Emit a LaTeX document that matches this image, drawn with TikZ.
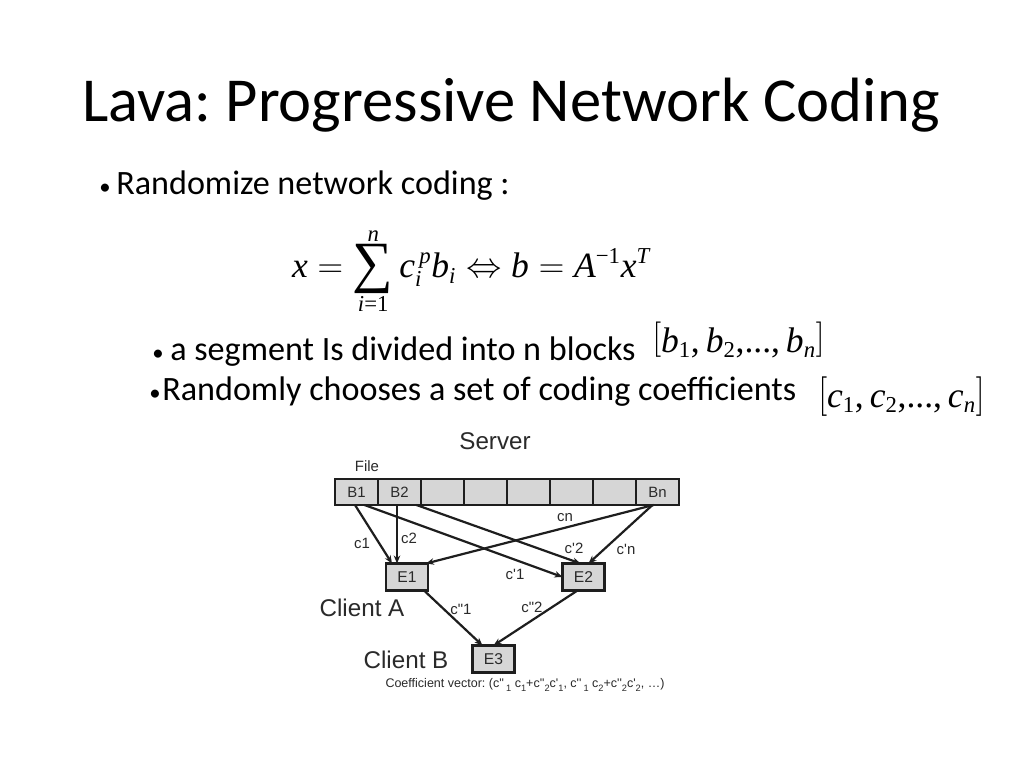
\documentclass[tikz,border=0pt]{standalone}
\usepackage{graphicx}
\usepackage[no-math]{fontspec}
\setmainfont{Carlito}
\newfontfamily\arial{Liberation Sans}
\newfontfamily\tnr{Liberation Serif}
\usetikzlibrary{arrows.meta}
\frenchspacing
\newcommand\pxu{0.703125pt}
\newcommand\mi[1]{\hbox{\tnr\itshape #1}}
\newcommand\ms[1]{\hbox{\fontsize{16}{16}\selectfont\tnr\itshape #1}}
\newcommand\mr[1]{\hbox{\fontsize{16}{16}\selectfont\tnr #1}}
\newcommand\mt[1]{\hbox{\tnr #1}}
\newcommand\brk[3]{\hbox{\raisebox{#2}{\scalebox{1}[#3]{$#1$}}}}
\definecolor{cellgray}{HTML}{D6D6D6}
\definecolor{linegray}{HTML}{1E1E1E}
\definecolor{txtgray}{HTML}{2A2A2A}
\tikzset{
  cellbox/.style={draw=linegray, fill=cellgray, line width=2*\pxu, minimum width=43*\pxu, minimum height=26*\pxu, inner sep=0pt, outer sep=0pt, font=\arial\fontsize{10.5}{12}\selectfont, text=txtgray},
  ebox/.style={draw=linegray, fill=cellgray, line width=2.8*\pxu, minimum width=42*\pxu, minimum height=27*\pxu, inner sep=0pt, outer sep=0pt, font=\arial\fontsize{11}{13}\selectfont, text=txtgray},
  arr/.style={-{Stealth[length=8*\pxu,width=6.5*\pxu]}, line width=2.2*\pxu, draw=linegray},
  lbl/.style={font=\arial\fontsize{10.5}{12}\selectfont, text=txtgray, inner sep=0pt},
  big/.style={font=\arial\fontsize{17}{20}\selectfont, text=txtgray, inner sep=0pt},
  bodytxt/.style={font=\fontsize{24}{28}\selectfont, inner sep=0pt, anchor=base west},
  bul/.style={font=\fontsize{16}{18}\selectfont, inner sep=0pt, anchor=base west},
  mathtxt/.style={font=\fontsize{25}{30}\selectfont, inner sep=0pt},
}
\begin{document}
\begin{tikzpicture}[x=0.703125pt,y=-0.703125pt]
\useasboundingbox[fill=white] (0,0) rectangle (1024,768);
% title
\node[font=\fontsize{44}{50}\selectfont, inner sep=0pt, anchor=base west] (title) at (82,122) {Lava: Progressive Network Coding};
% bullets
\node[bul] (bul1) at (99,195) {•};
\node[bodytxt] (t1) at (116,195) {Randomize network coding :};
\node[mathtxt, anchor=base] (eq) at (471,278) {$\displaystyle \mi{x} = \mathop{\vcenter{\hbox{\tnr\fontsize{40}{40}\selectfont ∑}}}\limits^{\ms{n}}_{\ms{i}\mr{=1}} \mi{c}^{\,\ms{p}}_{\ms{i}}\mi{b}_{\ms{i}} \Leftrightarrow \mi{b} = \mi{A}^{\mr{−1}}\mi{x}^{\ms{T}}$};
\node[bul] (bul2) at (152,360) {•};
\node[bodytxt] (t2) at (170,360) {a segment Is divided into n blocks};
\node[mathtxt, anchor=base west] (m2) at (652,352) {$\brk{[}{2.5pt}{1}\mi{b}_{\mr{1}}\mt{,}\,\mi{b}_{\mr{2}}\mt{,...,}\,\mi{b}_{\ms{n}}\brk{]}{2.5pt}{1}$};
\node[bul] (bul3) at (149,400) {•};
\node[bodytxt] (t3) at (162,400) {Randomly chooses a set of coding coefficients};
\node[mathtxt, anchor=base west] (m3) at (818,407) {$\brk{[}{0.5pt}{1.12}\mi{c}_{\mr{1}}\mt{,}\,\mi{c}_{\mr{2}}\mt{,...,}\,\mi{c}_{\ms{n}}\brk{]}{0.5pt}{1.12}$};
% diagram
\node[big] (server) at (495,441) {Server};
\node[lbl] (file) at (367,466) {File};
\node[cellbox] (b1) at (356.5,492) {B1};
\node[cellbox] (b2) at (399.5,492) {B2};
\node[cellbox] (b3) at (442.5,492) {};
\node[cellbox] (b4) at (485.5,492) {};
\node[cellbox] (b5) at (528.5,492) {};
\node[cellbox] (b6) at (571.5,492) {};
\node[cellbox] (b7) at (614.5,492) {};
\node[cellbox] (bn) at (657.5,492) {Bn};
\node[ebox] (e1) at (407,577) {E1};
\node[ebox] (e2) at (583.5,577) {E2};
\node[ebox] (e3) at (493.5,659) {E3};
% arrows
\draw[arr] ([xshift=-1.5*\pxu]b1.south) -- ([xshift=-15*\pxu]e1.north);
\draw[arr] ([xshift=-2.5*\pxu]b2.south) -- ([xshift=-10*\pxu]e1.north);
\draw[arr] ([xshift=8*\pxu]b1.south) -- (e2.west);
\draw[arr] ([xshift=17*\pxu]b2.south) -- ([xshift=-3*\pxu]e2.north);
\draw[arr] ([xshift=-4*\pxu]bn.south) -- ([xshift=-2*\pxu]e1.north east);
\draw[arr] ([xshift=-5*\pxu]bn.south) -- ([xshift=5*\pxu]e2.north);
\draw[arr] ([xshift=17*\pxu]e1.south) -- ([xshift=-11*\pxu]e3.north);
\draw[arr] ([xshift=-6*\pxu]e2.south) -- (e3.north);
% labels
\node[lbl] (lc1) at (362,543) {c1};
\node[lbl] (lc2) at (409,538) {c2};
\node[lbl] (lcn) at (565,518) {cn};
\node[lbl] (lcp2) at (574,548) {c'2};
\node[lbl] (lcpn) at (626,549) {c'n};
\node[lbl] (lcp1) at (515,574) {c'1};
\node[lbl] (lcpp1) at (461,609) {c"1};
\node[lbl] (lcpp2) at (532,607) {c"2};
\node[big] (clA) at (362,608) {Client A};
\node[big] (clB) at (406,660) {Client B};
\node[inner sep=0pt, font=\arial\fontsize{8.8}{10}\selectfont, text=txtgray] (coef) at (525,685)
  {Coefficient vector: (c''\,\raisebox{-0.25em}{\fontsize{6.5}{7}\selectfont1} c\raisebox{-0.25em}{\fontsize{6.5}{7}\selectfont1}+c''\raisebox{-0.25em}{\fontsize{6.5}{7}\selectfont2}c'\raisebox{-0.25em}{\fontsize{6.5}{7}\selectfont1}, c''\,\raisebox{-0.25em}{\fontsize{6.5}{7}\selectfont1} c\raisebox{-0.25em}{\fontsize{6.5}{7}\selectfont2}+c''\raisebox{-0.25em}{\fontsize{6.5}{7}\selectfont2}c'\raisebox{-0.25em}{\fontsize{6.5}{7}\selectfont2}, …)};
\end{tikzpicture}
\end{document}
